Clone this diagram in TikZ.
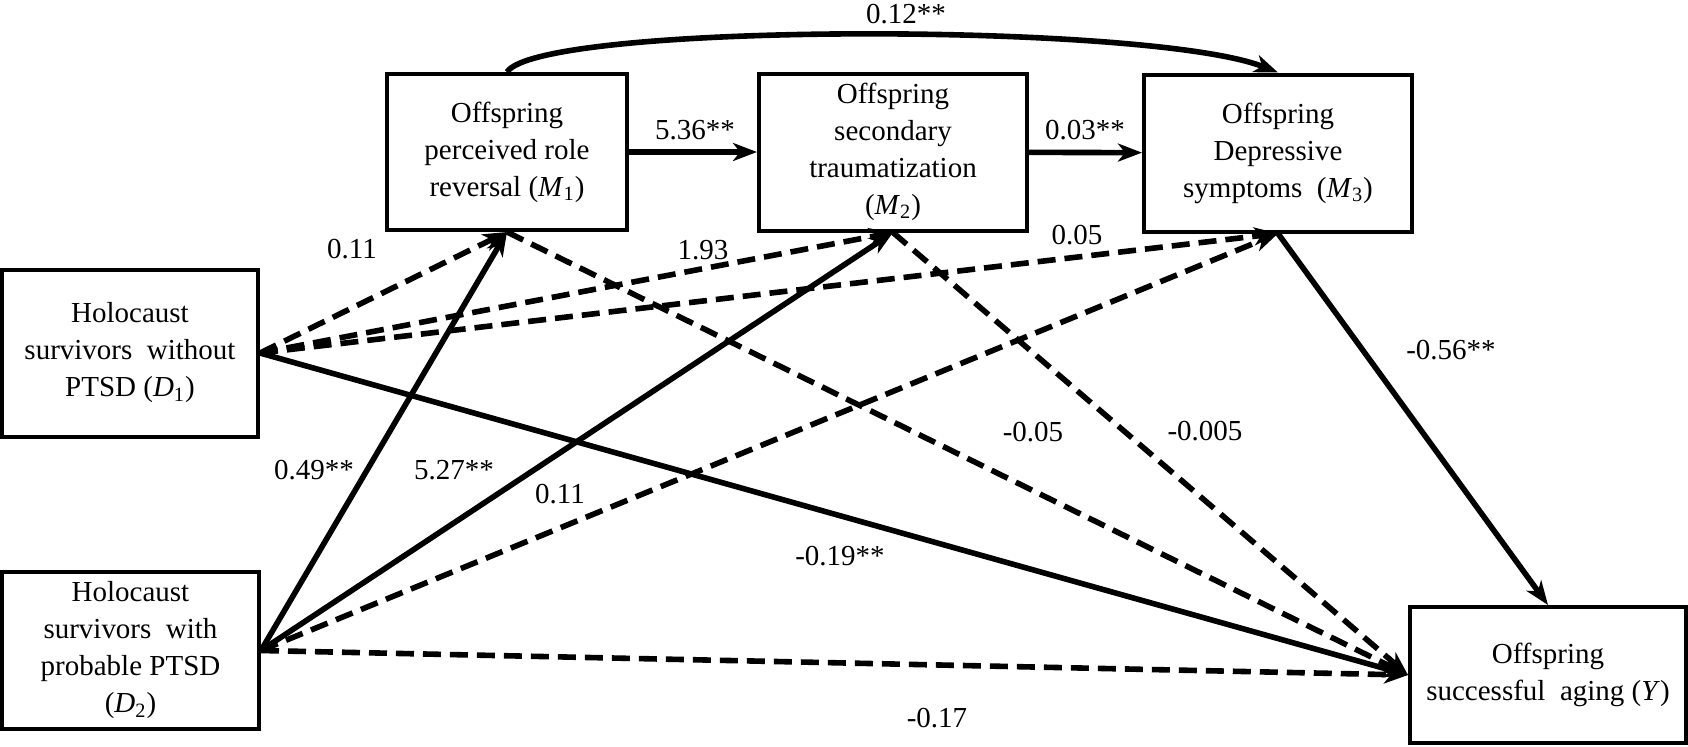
\documentclass[tikz,border=0pt]{standalone}
\usepackage{fontspec}
\setmainfont{Liberation Serif}
\usetikzlibrary{arrows.meta}
\begin{document}
\begin{tikzpicture}[x=0.5pt,y=-0.5pt,
  box/.style={draw, line width=2pt, align=center, inner sep=0pt,
    font=\fontsize{14.5}{18.5}\selectfont},
  conn/.style={line width=2.8pt, -{Stealth[length=12pt, width=9pt, inset=3.5pt]}},
  dconn/.style={conn, dash pattern=on 9pt off 4.5pt},
  lab/.style={inner sep=0pt, font=\fontsize{14.5}{17}\selectfont}]
\useasboundingbox (0,0) rectangle (1688,746);
\newcommand{\vr}[2]{\textit{#1}\textsubscript{#2}}
% boxes
\node[box, minimum width=128pt, minimum height=83.5pt] (D1) at (130,353)
  {Holocaust\\survivors\ \ without\\PTSD (\vr{D}{1})};
\node[box, minimum width=128.5pt, minimum height=78.5pt] (D2) at (130.5,650.5)
  {Holocaust\\survivors\ \ with\\probable PTSD\\(\vr{D}{2})};
\node[box, minimum width=120pt, minimum height=78pt] (M1) at (507,152)
  {Offspring\\perceived role\\reversal (\vr{M}{1})};
\node[box, minimum width=134pt, minimum height=78.5pt] (M2) at (893,152)
  {Offspring\\secondary\\traumatization\\(\vr{M}{2})};
\node[box, minimum width=134pt, minimum height=78.5pt] (M3) at (1278,153)
  {Offspring\\Depressive\\symptoms\ \ (\vr{M}{3})};
\node[box, minimum width=138pt, minimum height=68pt] (Y) at (1548,675)
  {Offspring\\successful\ \ aging\ (\textit{Y})};
% connectors
\draw[conn] (M1) -- (M2);
\draw[conn] (M2) -- (M3);
\draw[conn] (M1.north) .. controls (540,22) and (1150,22) .. (M3.north);
\draw[dconn] (D1.east) -- (M1.south);
\draw[dconn] (D1.east) -- (M2.south);
\draw[dconn] (D1.east) -- (M3.south);
\draw[conn] (D1.east) -- (Y.west);
\draw[conn] (D2.east) -- (M1.south);
\draw[conn] (D2.east) -- (M2.south);
\draw[dconn] (D2.east) -- (M3.south);
\draw[dconn] (D2.east) -- (Y.west);
\draw[dconn] (M1.south) -- (Y.west);
\draw[dconn] (M2.south) -- (Y.west);
\draw[conn] (M3.south) -- (Y.north);
% labels
\node[lab] (l1) at (906,14) {0.12**};
\node[lab] (l2) at (695,130) {5.36**};
\node[lab] (l3) at (1085,130) {0.03**};
\node[lab] (l4) at (352,249) {0.11};
\node[lab] (l5) at (703,250) {1.93};
\node[lab] (l6) at (1077,235) {0.05};
\node[lab] (l7) at (1451,350) {-0.56**};
\node[lab] (l8) at (314,470) {0.49**};
\node[lab] (l9) at (454,470) {5.27**};
\node[lab] (l10) at (560,494) {0.11};
\node[lab] (l11) at (1033,432) {-0.05};
\node[lab] (l12) at (1205,431) {-0.005};
\node[lab] (l13) at (840,556) {-0.19**};
\node[lab] (l14) at (937,718) {-0.17};
\end{tikzpicture}
\end{document}
